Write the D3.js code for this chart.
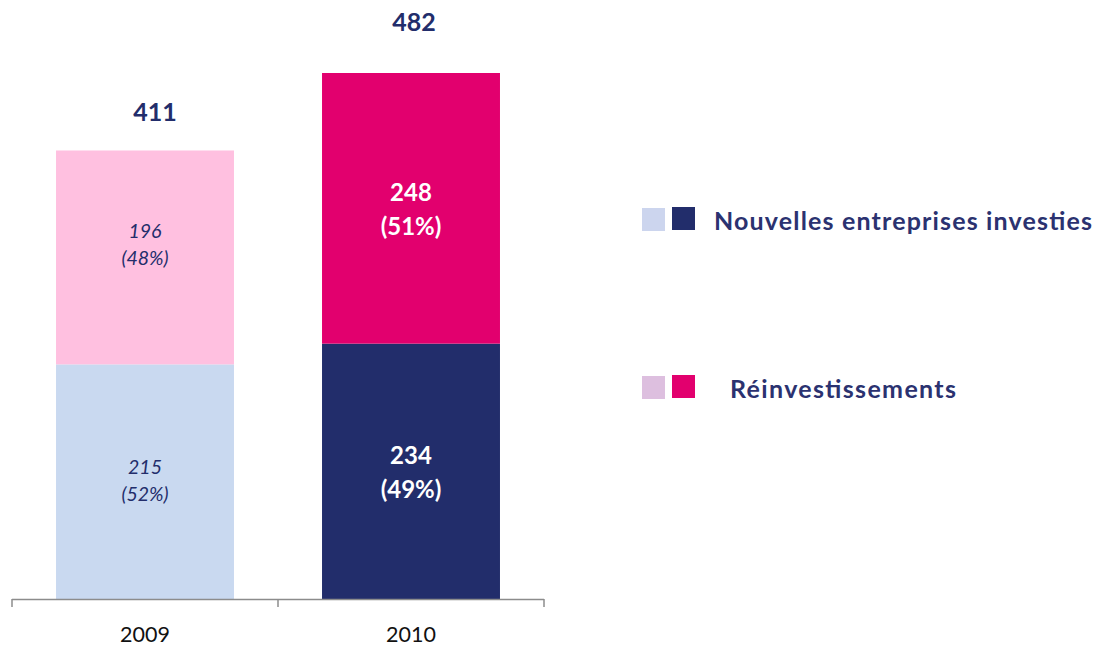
<!DOCTYPE html>
<html>
<head>
<meta charset="utf-8">
<script src="https://cdn.jsdelivr.net/npm/d3@7"></script>
<style>
  body { margin: 0; background: #fff; }
  svg { display: block; font-family: Lato, "Open Sans", sans-serif; }
</style>
</head>
<body>
<svg width="1095" height="647"></svg>
<script>
const years = ["2009", "2010"]
const nouvelles = [215, 234]
const reinvest = [196, 248]
const nouvellesPct = ["52%", "49%"]
const reinvestPct = ["48%", "51%"]
const totals = [411, 482]

const seriesNames = ["Nouvelles entreprises investies", "Réinvestissements"]
// light colour used for 2009, dark colour for 2010
const lightColours = ["#c9d9f0", "#ffc0e0"]
const darkColours = ["#222d6b", "#e2006e"]
const legendLight = ["#ccd5ee", "#ddbfdf"]

const width = 1095, height = 647
const navy = "#222d6b"

const svg = d3.select("svg")

const x = d3.scaleBand()
  .domain(years)
  .range([12, 544])
  .paddingInner(0.331)
  .paddingOuter(0.1655)

const y = d3.scaleLinear()
  .domain([0, 482])
  .range([599, 73])

const data = years.map((yr, i) => ({
  year: yr,
  segs: [
    {v0: 0, v1: nouvelles[i], val: nouvelles[i], pct: nouvellesPct[i], s: 0},
    {v0: nouvelles[i], v1: nouvelles[i] + reinvest[i], val: reinvest[i], pct: reinvestPct[i], s: 1}
  ],
  total: totals[i],
  i
}))

const bars = svg.append("g").selectAll("g")
  .data(data)
  .join("g")

bars.selectAll("rect")
  .data(d => d.segs.map(s => ({...s, year: d.year, i: d.i})))
  .join("rect")
  .attr("x", d => x(d.year))
  .attr("width", x.bandwidth())
  .attr("y", d => y(d.v1))
  .attr("height", d => y(d.v0) - y(d.v1))
  .attr("fill", d => d.i === 0 ? lightColours[d.s] : darkColours[d.s])

// segment labels (the 2009 top one sits a bit above the middle, like the original)
const segShift = [[0, -12], [4, 4]]
bars.selectAll("text.seg")
  .data(d => d.segs.map(s => ({...s, year: d.year, i: d.i})))
  .join("text")
  .attr("class", "seg")
  .attr("x", d => x(d.year) + x.bandwidth() / 2)
  .attr("y", d => (y(d.v0) + y(d.v1)) / 2 + segShift[d.i][d.s])
  .attr("text-anchor", "middle")
  .attr("fill", d => d.i === 0 ? navy : "#fff")
  .attr("font-style", d => d.i === 0 ? "italic" : "normal")
  .attr("font-weight", d => d.i === 0 ? "normal" : "bold")
  .attr("font-size", d => d.i === 0 ? 19.5 : 24)
  .each(function(d) {
    const t = d3.select(this)
    const lh = d.i === 0 ? 27 : 34
    t.append("tspan").attr("x", t.attr("x")).attr("dy", -lh / 2 + 6).text(d.val)
    t.append("tspan").attr("x", t.attr("x")).attr("dy", lh).text("(" + d.pct + ")")
  })

// totals
const totalDx = [10, 3]
const totalGap = [29, 42]
bars.append("text")
  .attr("x", d => x(d.year) + x.bandwidth() / 2 + totalDx[d.i])
  .attr("y", d => y(d.total) - totalGap[d.i])
  .attr("text-anchor", "middle")
  .attr("font-weight", "bold")
  .attr("font-size", 25)
  .attr("fill", navy)
  .text(d => d.total)

// axis
const axisG = svg.append("g")
axisG.append("line")
  .attr("x1", 12).attr("x2", 544)
  .attr("y1", 599.5).attr("y2", 599.5)
  .attr("stroke", "#8c8c8c").attr("stroke-width", 1.5)
const tickXs = [x.range()[0]].concat(years.map(yr => x(yr) + x.bandwidth() + x.step() * x.paddingInner() / 2))
tickXs[tickXs.length - 1] = x.range()[1]
axisG.selectAll("line.tick")
  .data(tickXs)
  .join("line")
  .attr("class", "tick")
  .attr("x1", d => d).attr("x2", d => d)
  .attr("y1", 599).attr("y2", 607)
  .attr("stroke", "#8c8c8c").attr("stroke-width", 1.5)
axisG.selectAll("text")
  .data(years)
  .join("text")
  .attr("x", d => x(d) + x.bandwidth() / 2)
  .attr("y", 642)
  .attr("text-anchor", "middle")
  .attr("font-size", 21.5)
  .attr("fill", "#111")
  .text(d => d)

// legend
const legendY = [219, 387]
const legendTextX = [714, 730]
const legendTextW = [378, 226]
const legend = svg.append("g").selectAll("g")
  .data(seriesNames)
  .join("g")
legend.append("rect")
  .attr("x", 642).attr("y", (d, i) => legendY[i] - 11)
  .attr("width", 23).attr("height", 23)
  .attr("fill", (d, i) => legendLight[i])
legend.append("rect")
  .attr("x", 672).attr("y", (d, i) => legendY[i] - 12)
  .attr("width", 23).attr("height", 23)
  .attr("fill", (d, i) => darkColours[i])
legend.append("text")
  .attr("x", (d, i) => legendTextX[i])
  .attr("y", (d, i) => legendY[i] + 11)
  .attr("font-weight", "bold")
  .attr("font-size", 25)
  .attr("textLength", (d, i) => legendTextW[i])
  .attr("lengthAdjust", "spacing")
  .attr("fill", "#2b3270")
  .text(d => d)
</script>
</body>
</html>
